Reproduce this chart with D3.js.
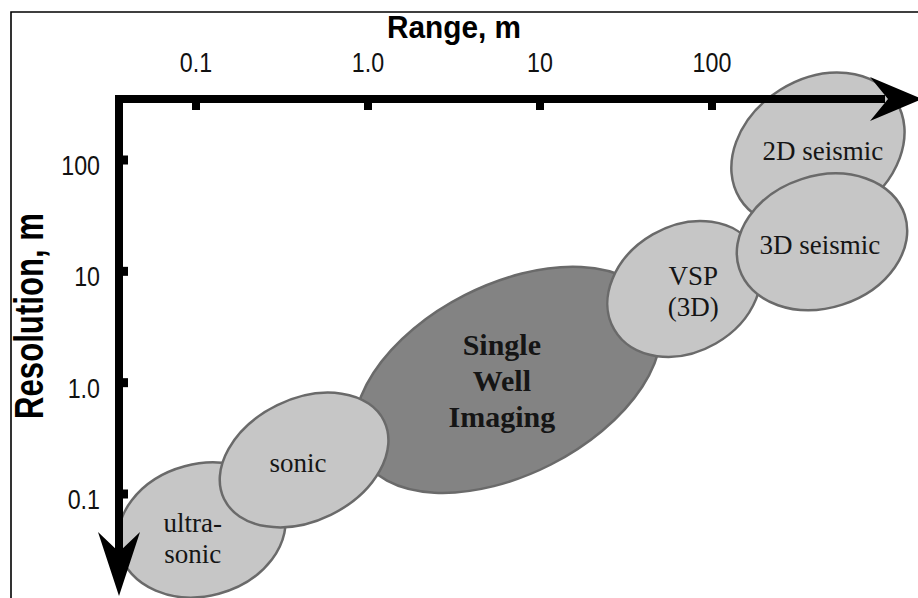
<!DOCTYPE html>
<html>
<head>
<meta charset="utf-8">
<script src="https://cdn.jsdelivr.net/npm/d3@7"></script>
<style>
  html, body { margin: 0; padding: 0; background: #fff; }
  svg { display: block; }
</style>
</head>
<body>
<div id="chart"></div>
<script>
// tick values and labels for both log axes
const rangeTicks = [0.1, 1, 10, 100];
const rangeTickLabels = ['0.1', '1.0', '10', '100'];
const resolutionTicks = [100, 10, 1, 0.1];
const resolutionTickLabels = ['100', '10', '1.0', '0.1'];

// imaging methods, in drawing order (later ones sit on top)
const methods = ['2D seismic', 'Single Well Imaging', 'VSP (3D)', '3D seismic', 'ultra-sonic', 'sonic'];
const methodLines = [['2D seismic'], ['Single', 'Well', 'Imaging'], ['VSP', '(3D)'], ['3D seismic'], ['ultra-', 'sonic'], ['sonic']];
// centre of each method's region: range (m) and resolution (m)
const centerRange = [413, 6.5, 69, 436, 0.108, 0.425];
const centerResolution = [123, 1.06, 6.95, 18.4, 0.0475, 0.202];

// ellipse shape, purely visual: semi-axes (px), tilt (deg), label offset
const shape = {
  '2D seismic':          { rx: 92, ry: 71, rot: -32, dx: 5, dy: 10, dark: false },
  'Single Well Imaging': { rx: 165, ry: 95, rot: -27, dx: -6, dy: -25, dark: true },
  'VSP (3D)':            { rx: 81, ry: 63, rot: -30, dx: 9, dy: -4, dark: false },
  '3D seismic':          { rx: 87, ry: 66, rot: -18, dx: -2, dy: 12, dark: false },
  'ultra-sonic':         { rx: 85, ry: 66, rot: -15, dx: -9, dy: 2, dark: false },
  'sonic':               { rx: 89, ry: 61, rot: -26, dx: -6, dy: 12, dark: false }
};

const width = 918, height = 598;

const svg = d3.select('#chart').append('svg')
  .attr('width', width)
  .attr('height', height);

const x = d3.scaleLog().domain([0.1, 100]).range([196, 712]);
const y = d3.scaleLog().domain([0.1, 100]).range([494, 160]);

// frame (only top and left edges show in the figure)
svg.append('path')
  .attr('d', 'M11,598 L11,12 L918,12')
  .attr('fill', 'none')
  .attr('stroke', '#000')
  .attr('stroke-width', 1.6);

// ellipses
const blobs = svg.append('g')
  .selectAll('g')
  .data(methods.map((m, i) => ({ name: m, lines: methodLines[i], r: centerRange[i], res: centerResolution[i] })))
  .join('g')
  .attr('transform', d => `translate(${x(d.r)},${y(d.res)})`);

blobs.append('ellipse')
  .attr('rx', d => shape[d.name].rx)
  .attr('ry', d => shape[d.name].ry)
  .attr('transform', d => `rotate(${shape[d.name].rot})`)
  .attr('fill', d => shape[d.name].dark ? '#838383' : '#c6c6c6')
  .attr('stroke', '#6a6a6a')
  .attr('stroke-width', 2.5);

blobs.append('text')
  .attr('text-anchor', 'middle')
  .attr('font-family', '"Liberation Serif", "Times New Roman", serif')
  .attr('font-size', d => shape[d.name].dark ? 30 : 27)
  .attr('font-weight', d => shape[d.name].dark ? 'bold' : 'normal')
  .attr('fill', '#151515')
  .selectAll('tspan')
  .data(d => d.lines.map((t, k) => ({ t, k, s: shape[d.name] })))
  .join('tspan')
  .attr('x', d => d.s.dx)
  .attr('y', d => d.s.dy + d.k * (d.s.dark ? 36 : 31))
  .text(d => d.t);

// axes drawn as heavy black bars with small square ticks
const axis = svg.append('g').attr('fill', '#000');

axis.append('rect').attr('x', 115).attr('y', 95).attr('width', 770).attr('height', 8);
axis.append('path').attr('d', 'M870,77 L922,99 L870,121 L888,99 Z');

axis.append('rect').attr('x', 115).attr('y', 95).attr('width', 8).attr('height', 465);
axis.append('path').attr('d', 'M98,532 L119,596 L140,532 L119,552 Z');

axis.selectAll('.xtick')
  .data(rangeTicks)
  .join('rect')
  .attr('x', d => x(d) - 4)
  .attr('y', 103)
  .attr('width', 8)
  .attr('height', 7);

axis.selectAll('.ytick')
  .data(resolutionTicks)
  .join('rect')
  .attr('x', 123)
  .attr('y', d => y(d) - 4.5)
  .attr('width', 5)
  .attr('height', 9);

const sans = '"Liberation Sans", Arial, Helvetica, sans-serif';

function squeeze(sel, k) {
  sel.each(function() {
    const w = this.getComputedTextLength();
    this.setAttribute('textLength', w * k);
    this.setAttribute('lengthAdjust', 'spacingAndGlyphs');
  });
}

svg.append('g')
  .selectAll('text')
  .data(rangeTicks)
  .join('text')
  .attr('x', d => x(d))
  .attr('y', 72)
  .attr('text-anchor', 'middle')
  .attr('font-family', sans)
  .attr('font-size', 28)
  .attr('fill', '#111')
  .text((d, i) => rangeTickLabels[i])
  .call(squeeze, 0.83);

svg.append('g')
  .selectAll('text')
  .data(resolutionTicks)
  .join('text')
  .attr('x', 100)
  .attr('y', d => y(d) + 15)
  .attr('text-anchor', 'end')
  .attr('font-family', sans)
  .attr('font-size', 28)
  .attr('fill', '#111')
  .text((d, i) => resolutionTickLabels[i])
  .call(squeeze, 0.83);

// axis titles
svg.append('text')
  .attr('x', 454)
  .attr('y', 38)
  .attr('text-anchor', 'middle')
  .attr('font-family', sans)
  .attr('font-weight', 'bold')
  .attr('font-size', 32)
  .attr('textLength', 134)
  .attr('lengthAdjust', 'spacingAndGlyphs')
  .text('Range, m');

svg.append('text')
  .attr('transform', 'translate(43,316) rotate(-90)')
  .attr('text-anchor', 'middle')
  .attr('font-family', sans)
  .attr('font-weight', 'bold')
  .attr('font-size', 41)
  .attr('textLength', 206)
  .attr('lengthAdjust', 'spacingAndGlyphs')
  .text('Resolution, m');
</script>
</body>
</html>
